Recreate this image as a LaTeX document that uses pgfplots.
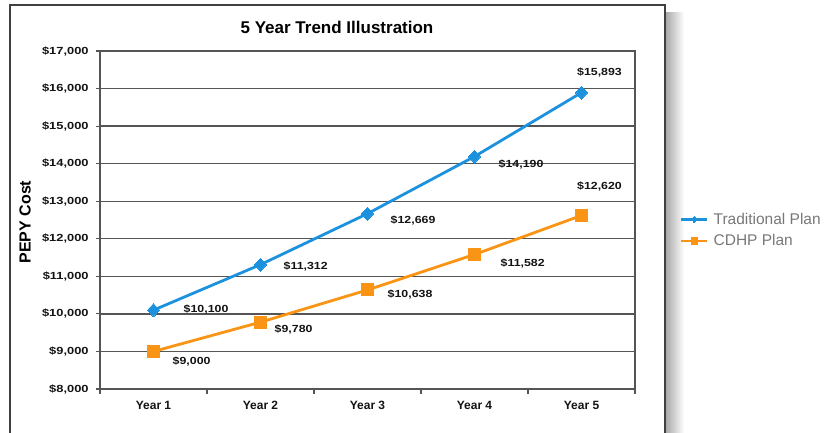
\documentclass[border=0pt]{standalone}
\usepackage{pgfplots}
\pgfplotsset{compat=1.18}
\usepackage{fontspec}
\setmainfont{Liberation Sans}
\definecolor{tradblue}{RGB}{28,146,222}
\definecolor{cdhporange}{RGB}{250,148,20}
\definecolor{gridgray}{RGB}{85,85,85}
\definecolor{labgray}{RGB}{20,20,20}
\definecolor{leggray}{RGB}{120,120,120}
\tikzset{dlab/.style={font=\fontsize{10.3}{12}\selectfont\bfseries, text=labgray, xscale=1.2, inner sep=0pt}}
\begin{document}
\begin{tikzpicture}[x=1pt,y=1pt]
\useasboundingbox (0,0) rectangle (832,432);
\clip (0,0) rectangle (832,432);
% shadow
\shade[left color=black!35, right color=white] (665,-5) rectangle (684,419);
\fill[white] (10,-5) rectangle (665,427);
\draw[line width=1.5pt, draw=black!75] (10,-10) rectangle (665,427);
\node[font=\fontsize{17}{20}\selectfont\bfseries] at (337,405) {5 Year Trend Illustration};
\node[font=\fontsize{16}{19}\selectfont\bfseries, rotate=90] at (25,210) {PEPY Cost};
\begin{axis}[
  at={(100pt,43pt)}, anchor=south west,
  scale only axis, width=535pt, height=338pt,
  xmin=0.5, xmax=5.5, ymin=8000, ymax=17000,
  xtick={0.5,1.5,...,5.5},
  x tick label as interval,
  xticklabels={Year 1,Year 2,Year 3,Year 4,Year 5},
  ytick={8000,9000,...,17000},
  scaled y ticks=false,
  yticklabels={{\$8,000},{\$9,000},{\$10,000},{\$11,000},{\$12,000},{\$13,000},{\$14,000},{\$15,000},{\$16,000},{\$17,000}},
  xtick pos=bottom, ytick pos=left,
  major tick length=4.5pt,
  tick align=outside,
  tick style={line width=1.2pt, draw=gridgray},
  ymajorgrids,
  grid style={line width=1.4pt, draw=gridgray},
  axis line style={line width=1.4pt, draw=gridgray},
  xticklabel style={font=\fontsize{12}{14}\selectfont\bfseries, text=labgray, yshift=-4pt},
  yticklabel style={font=\fontsize{10.3}{12}\selectfont\bfseries, text=labgray, xscale=1.25, xshift=-2pt},
  legend style={at={(1.084,0.47)}, anchor=west, draw=none, fill=none,
    font=\fontsize{15.5}{18}\selectfont, text=leggray, row sep=-1pt, inner sep=0pt,
    nodes={inner sep=5pt}},
  legend cell align=left,
  legend image code/.code={
    \draw[#1, line width=2.5pt] (0pt,0pt) -- (26pt,0pt);
    \draw[#1, mark size=3.2pt] plot coordinates {(13pt,0pt)};
  },
]
\addplot[color=tradblue, line width=2.8pt, mark=diamond*, mark size=6.5pt, mark options={xscale=1.25, line width=0pt}]
  coordinates {(1,10100) (2,11312) (3,12669) (4,14190) (5,15893)};
\addlegendentry{Traditional Plan}
\addplot[color=cdhporange, line width=2.8pt, mark=square*, mark size=6pt, mark options={line width=0pt}]
  coordinates {(1,9000) (2,9780) (3,10638) (4,11582) (5,12620)};
\addlegendentry{CDHP Plan}
% data labels
\node[dlab, anchor=west] at ([xshift=30pt,yshift=1pt]axis cs:1,10100) {\$10,100};
\node[dlab, anchor=west] at ([xshift=23pt,yshift=-2pt]axis cs:2,11312) {\$11,312};
\node[dlab, anchor=west] at ([xshift=23pt,yshift=-7pt]axis cs:3,12669) {\$12,669};
\node[dlab, anchor=west] at ([xshift=24pt,yshift=-8pt]axis cs:4,14190) {\$14,190};
\node[dlab] at ([xshift=18pt,yshift=20pt]axis cs:5,15893) {\$15,893};
\node[dlab, anchor=west] at ([xshift=19pt,yshift=-10pt]axis cs:1,9000) {\$9,000};
\node[dlab, anchor=west] at ([xshift=14pt,yshift=-7pt]axis cs:2,9780) {\$9,780};
\node[dlab, anchor=west] at ([xshift=20pt,yshift=-5pt]axis cs:3,10638) {\$10,638};
\node[dlab, anchor=west] at ([xshift=26pt,yshift=-9pt]axis cs:4,11582) {\$11,582};
\node[dlab] at ([xshift=18pt,yshift=29pt]axis cs:5,12620) {\$12,620};
\end{axis}
\end{tikzpicture}
\end{document}
